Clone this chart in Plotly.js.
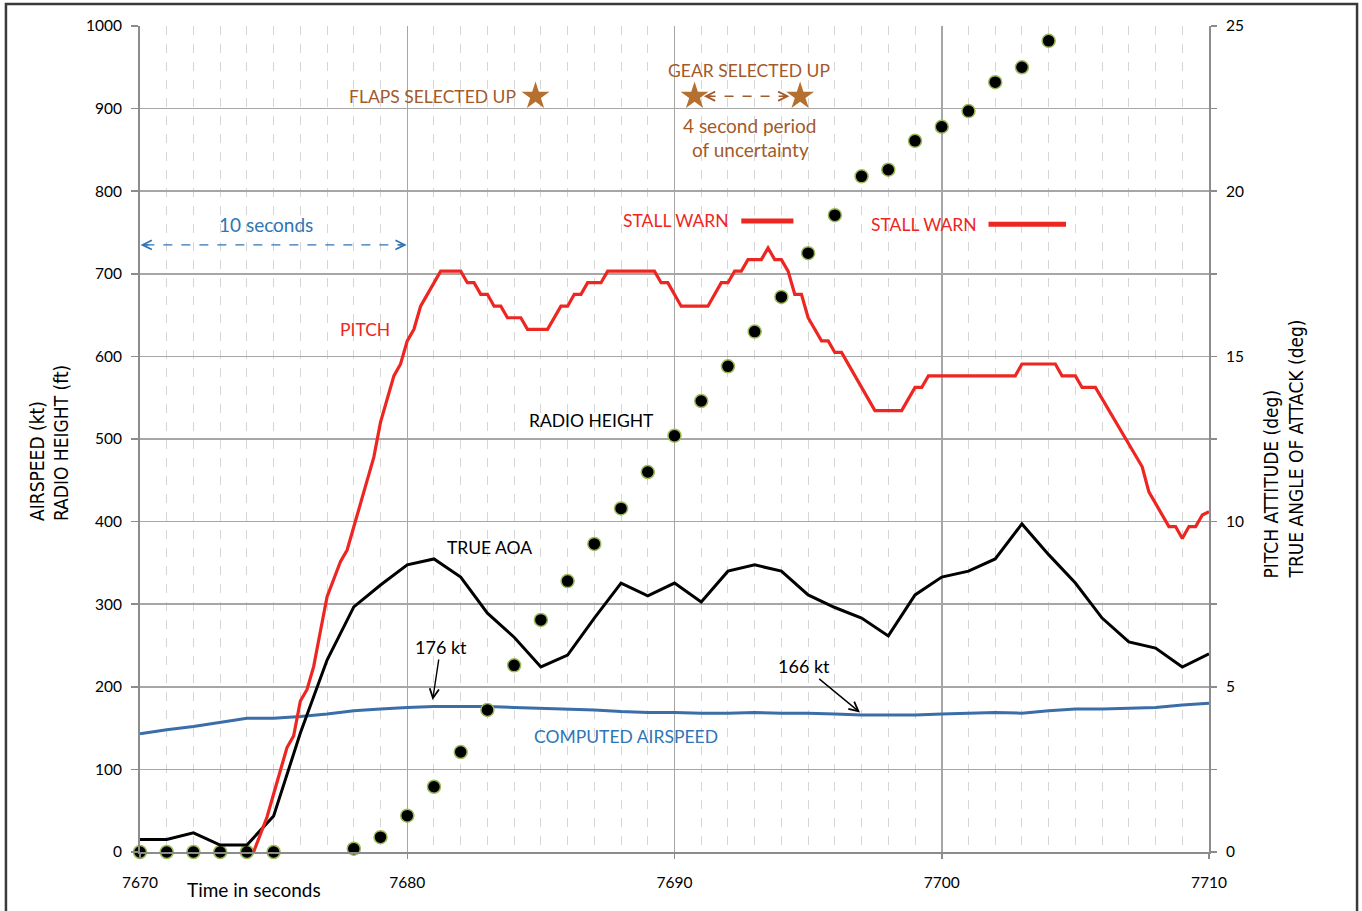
<!DOCTYPE html>
<html>
<head>
<meta charset="utf-8">
<script src="https://cdn.plot.ly/plotly-3.0.1.min.js"></script>
<style>
  html, body { margin: 0; padding: 0; background: #ffffff; }
  #chart { width: 1362px; height: 911px; }
</style>
</head>
<body>
<div id="chart"></div>
<script>
// ---------------- DATA ----------------
// Computed airspeed (kt), one sample per second
const airspeedTime = [7670,7671,7672,7673,7674,7675,7676,7677,7678,7679,7680,7681,7682,7683,7684,7685,7686,7687,7688,7689,7690,7691,7692,7693,7694,7695,7696,7697,7698,7699,7700,7701,7702,7703,7704,7705,7706,7707,7708,7709,7710];
const airspeedKt   = [143,148,152,157,162,162,164,167,171,173,175,176,176,176,175,174,173,172,170,169,169,168,168,169,168,168,167,166,166,166,167,168,169,168,171,173,173,174,175,178,180];

// True angle of attack (deg), one sample per second
const aoaTime = [7670,7671,7672,7673,7674,7675,7676,7677,7678,7679,7680,7681,7682,7683,7684,7685,7686,7687,7688,7689,7690,7691,7692,7693,7694,7695,7696,7697,7698,7699,7700,7701,7702,7703,7704,7705,7706,7707,7708,7709,7710];
const aoaDeg  = [0.38,0.38,0.58,0.21,0.21,1.09,3.6,5.81,7.42,8.08,8.69,8.87,8.32,7.23,6.5,5.6,5.96,7.08,8.14,7.75,8.14,7.57,8.5,8.69,8.5,7.78,7.4,7.08,6.54,7.78,8.32,8.5,8.87,9.93,9.0,8.14,7.08,6.36,6.17,5.6,6.0];

// Pitch attitude (deg), 4 samples per second where it changes
const pitchTime = [7674.25,7674.75,7675.25,7675.5,7675.75,7676.0,7676.25,7676.5,7676.75,7677.0,7677.5,7677.75,7678.75,7679.0,7679.5,7679.75,7680.0,7680.25,7680.5,7681.25,7682.0,7682.25,7682.5,7682.75,7683.0,7683.25,7683.5,7683.75,7684.25,7684.5,7685.25,7685.75,7686.0,7686.25,7686.5,7686.75,7687.25,7687.5,7689.25,7689.5,7689.75,7690.25,7691.25,7691.75,7692.0,7692.25,7692.5,7692.75,7693.25,7693.5,7693.75,7694.0,7694.25,7694.5,7694.75,7695.0,7695.5,7695.75,7696.0,7696.25,7697.5,7698.5,7699.0,7699.25,7699.5,7702.75,7703.0,7704.25,7704.5,7705.0,7705.25,7705.75,7707.5,7707.75,7708.5,7708.75,7709.0,7709.25,7709.5,7709.75,7710.0];
const pitchDeg  = [0.0,1.05,2.46,3.16,3.52,4.57,4.92,5.62,6.68,7.73,8.79,9.14,11.95,13.01,14.41,14.77,15.47,15.82,16.52,17.58,17.58,17.23,17.23,16.88,16.88,16.52,16.52,16.17,16.17,15.82,15.82,16.52,16.52,16.88,16.88,17.23,17.23,17.58,17.58,17.23,17.23,16.52,16.52,17.23,17.23,17.58,17.58,17.93,17.93,18.28,17.93,17.93,17.58,16.88,16.88,16.17,15.47,15.47,15.12,15.12,13.36,13.36,14.06,14.06,14.41,14.41,14.77,14.77,14.41,14.41,14.06,14.06,11.66,10.9,9.85,9.85,9.49,9.85,9.85,10.2,10.3];

// Radio height (ft), one sample per second (7676-7677 not recorded)
const rhTime = [7670,7671,7672,7673,7674,7675,7678,7679,7680,7681,7682,7683,7684,7685,7686,7687,7688,7689,7690,7691,7692,7693,7694,7695,7696,7697,7698,7699,7700,7701,7702,7703,7704];
const rhFt   = [0,0,0,0,0,0,4,18,44,79,121,172,226,281,328,373,416,460,504,546,588,630,672,725,771,818,826,861,878,897,932,950,982];

// Events
const flapsUpTime = [7684.8];
const gearUpTimes = [7690.75, 7694.7];
const stallWarn1 = [7692.5, 7694.45];
const stallWarn2 = [7701.75, 7704.65];

// Axis ticks
const xTicks = [7670, 7680, 7690, 7700, 7710];
const leftTicks = [0,100,200,300,400,500,600,700,800,900,1000];
const rightTicks = [0,5,10,15,20,25];

// ---------------- STYLE ----------------
const RED = '#EE2622';
const BLUE = '#3B6EA8';
const TXTBLUE = '#2E75B6';
const BROWN = '#A35A2A';
const STAR = '#B5702F';
const FONT = 'Lato, "Open Sans", sans-serif';
const NARROW = '"Liberation Sans Narrow", "DejaVu Sans Condensed", "Arial Narrow", sans-serif';
const CAPS = 17.5;   // size for upper-case labels
const MIXED = 19;    // size for mixed-case labels

// annotation level (left-axis units) for event markers
const eventLevel = 915;
const stallLevel1 = 764;
const stallLevel2 = 760;

const traces = [
  { x: airspeedTime, y: airspeedKt, type: 'scatter', mode: 'lines', name: 'Computed airspeed',
    line: { color: BLUE, width: 3 }, yaxis: 'y' },
  { x: aoaTime, y: aoaDeg, type: 'scatter', mode: 'lines', name: 'True AOA',
    line: { color: '#000000', width: 3 }, yaxis: 'y2' },
  { x: pitchTime, y: pitchDeg, type: 'scatter', mode: 'lines', name: 'Pitch',
    line: { color: RED, width: 3.2 }, yaxis: 'y2' },
  { x: rhTime, y: rhFt, type: 'scatter', mode: 'markers', name: 'Radio height',
    marker: { color: '#000000', size: 13, line: { color: '#9BBB59', width: 1.5 } }, yaxis: 'y',
    cliponaxis: false },
  { x: flapsUpTime.concat(gearUpTimes), y: [eventLevel, eventLevel, eventLevel], type: 'scatter', mode: 'markers',
    marker: { symbol: 'star', color: STAR, size: 21, line: { width: 0 } }, yaxis: 'y', hoverinfo: 'skip' },
  { x: stallWarn1, y: [stallLevel1, stallLevel1], type: 'scatter', mode: 'lines',
    line: { color: RED, width: 5 }, yaxis: 'y', hoverinfo: 'skip' },
  { x: stallWarn2, y: [stallLevel2, stallLevel2], type: 'scatter', mode: 'lines',
    line: { color: RED, width: 5 }, yaxis: 'y', hoverinfo: 'skip' }
];

function txt(text, x, y, color, size) {
  return { text: text, x: x, y: y, xref: 'x', yref: 'y', showarrow: false,
    font: { family: FONT, size: size || CAPS, color: color }, xanchor: 'center', yanchor: 'middle' };
}
function head(x, y, ax, color) {
  return { text: '', x: x, y: y, xref: 'x', yref: 'y', showarrow: true, ax: ax, ay: 0,
    arrowhead: 5, arrowsize: 1.3, arrowwidth: 1.4, arrowcolor: color, standoff: 0 };
}

const annotations = [
  txt('FLAPS SELECTED UP', 7680.96, 915, BROWN),
  txt('GEAR SELECTED UP', 7692.8, 946, BROWN),
  txt('4 second period', 7692.83, 880, BROWN, MIXED),
  txt('of uncertainty', 7692.83, 850, BROWN, MIXED),
  head(gearUpTimes[0] + 0.35, eventLevel, 9, BROWN),
  head(gearUpTimes[1] - 0.4, eventLevel, -9, BROWN),
  txt('10 seconds', 7674.7, 760, TXTBLUE, MIXED),
  head(7670.02, 735, 10, TXTBLUE),
  head(7679.98, 735, -10, TXTBLUE),
  txt('STALL WARN', 7690.06, 764, RED),
  txt('STALL WARN', 7699.33, 760, RED),
  txt('PITCH', 7678.42, 633, RED),
  txt('RADIO HEIGHT', 7686.91, 523, '#000000'),
  txt('TRUE AOA', 7683.06, 369, '#000000'),
  txt('COMPUTED AIRSPEED', 7688.18, 140, TXTBLUE),
  { text: '176 kt', x: 7680.95, y: 184, xref: 'x', yref: 'y', showarrow: true, ax: 8, ay: -53,
    arrowhead: 5, arrowsize: 1.3, arrowwidth: 1.4, arrowcolor: '#000', standoff: 0,
    font: { family: FONT, size: 18, color: '#000' } },
  { text: '166 kt', x: 7696.94, y: 169, xref: 'x', yref: 'y', showarrow: true, ax: -56, ay: -46,
    arrowhead: 5, arrowsize: 1.3, arrowwidth: 1.4, arrowcolor: '#000', standoff: 0,
    font: { family: FONT, size: 18, color: '#000' } },
  { text: 'Time in seconds', x: 0.1066, y: -0.0448, xref: 'paper', yref: 'paper', showarrow: false,
    xanchor: 'center', yanchor: 'middle', font: { family: FONT, size: MIXED, color: '#000' } },
  // axis titles (two lines each, bottom aligned)
  { text: 'AIRSPEED (kt)', x: -0.0964, y: 0.3983, xref: 'paper', yref: 'paper', showarrow: false,
    textangle: -90, xanchor: 'center', yanchor: 'bottom', font: { family: NARROW, size: 19, color: '#000' } },
  { text: 'RADIO HEIGHT (ft)', x: -0.0739, y: 0.3983, xref: 'paper', yref: 'paper', showarrow: false,
    textangle: -90, xanchor: 'center', yanchor: 'bottom', font: { family: NARROW, size: 19, color: '#000' } },
  { text: 'PITCH ATTITUDE (deg)', x: 1.0589, y: 0.3293, xref: 'paper', yref: 'paper', showarrow: false,
    textangle: -90, xanchor: 'center', yanchor: 'bottom', font: { family: NARROW, size: 19, color: '#000' } },
  { text: 'TRUE ANGLE OF ATTACK (deg)', x: 1.0823, y: 0.3293, xref: 'paper', yref: 'paper', showarrow: false,
    textangle: -90, xanchor: 'center', yanchor: 'bottom', font: { family: NARROW, size: 19, color: '#000' } }
];

const shapes = [
  { type: 'line', xref: 'x', yref: 'y', x0: 7670.2, x1: 7679.8, y0: 735, y1: 735,
    line: { color: TXTBLUE, width: 1.4, dash: 'dash' } },
  { type: 'line', xref: 'x', yref: 'y', x0: gearUpTimes[0] + 0.45, x1: gearUpTimes[1] - 0.5, y0: eventLevel, y1: eventLevel,
    line: { color: BROWN, width: 1.4, dash: 'dash' } },
  { type: 'rect', xref: 'paper', yref: 'paper', x0: -0.1254, x1: 1.1385, y0: -0.09, y1: 1.0266,
    line: { color: '#3a3a3a', width: 2.5 }, fillcolor: 'rgba(0,0,0,0)', layer: 'above' }
];

const layout = {
  width: 1362, height: 911,
  margin: { l: 140, r: 153, t: 26, b: 59, pad: 0 },
  paper_bgcolor: '#ffffff', plot_bgcolor: '#ffffff',
  showlegend: false,
  font: { family: FONT, size: 16, color: '#000' },
  xaxis: {
    range: [7670, 7710], tickvals: xTicks, ticktext: xTicks.map(String),
    showgrid: true, gridcolor: '#a6a6a6', gridwidth: 1.5,
    minor: { dtick: 1, tick0: 7670, showgrid: true, gridcolor: '#d6d6d6', griddash: 'dash', gridwidth: 1 },
    showline: true, linecolor: '#8c8c8c', linewidth: 2, zeroline: false,
    ticks: 'outside', ticklen: 5, tickcolor: '#8c8c8c', tickwidth: 1.5,
    ticklabelstandoff: 10,
    tickfont: { family: FONT, size: 15.5, color: '#000' }
  },
  yaxis: {
    range: [0, 1000], tickvals: leftTicks, ticktext: leftTicks.map(String),
    showgrid: true, gridcolor: '#a6a6a6', gridwidth: 1.5,
    showline: true, linecolor: '#8c8c8c', linewidth: 2, zeroline: false,
    ticks: 'outside', ticklen: 7, tickcolor: '#8c8c8c', tickwidth: 1.5,
    ticklabelstandoff: 6,
    tickfont: { family: FONT, size: 15.5, color: '#000' }
  },
  yaxis2: {
    range: [0, 25], tickvals: rightTicks, ticktext: rightTicks.map(String),
    overlaying: 'y', side: 'right', showgrid: false,
    showline: true, linecolor: '#8c8c8c', linewidth: 2, zeroline: false,
    ticks: 'outside', ticklen: 6, tickcolor: '#8c8c8c', tickwidth: 1.5,
    minor: { dtick: 2.5, tick0: 0, ticks: 'outside', ticklen: 6, tickcolor: '#8c8c8c', showgrid: false },
    ticklabelstandoff: 6,
    tickfont: { family: FONT, size: 15.5, color: '#000' }
  },
  annotations: annotations,
  shapes: shapes
};

Plotly.newPlot('chart', traces, layout, { displayModeBar: false, staticPlot: true });
</script>
</body>
</html>
